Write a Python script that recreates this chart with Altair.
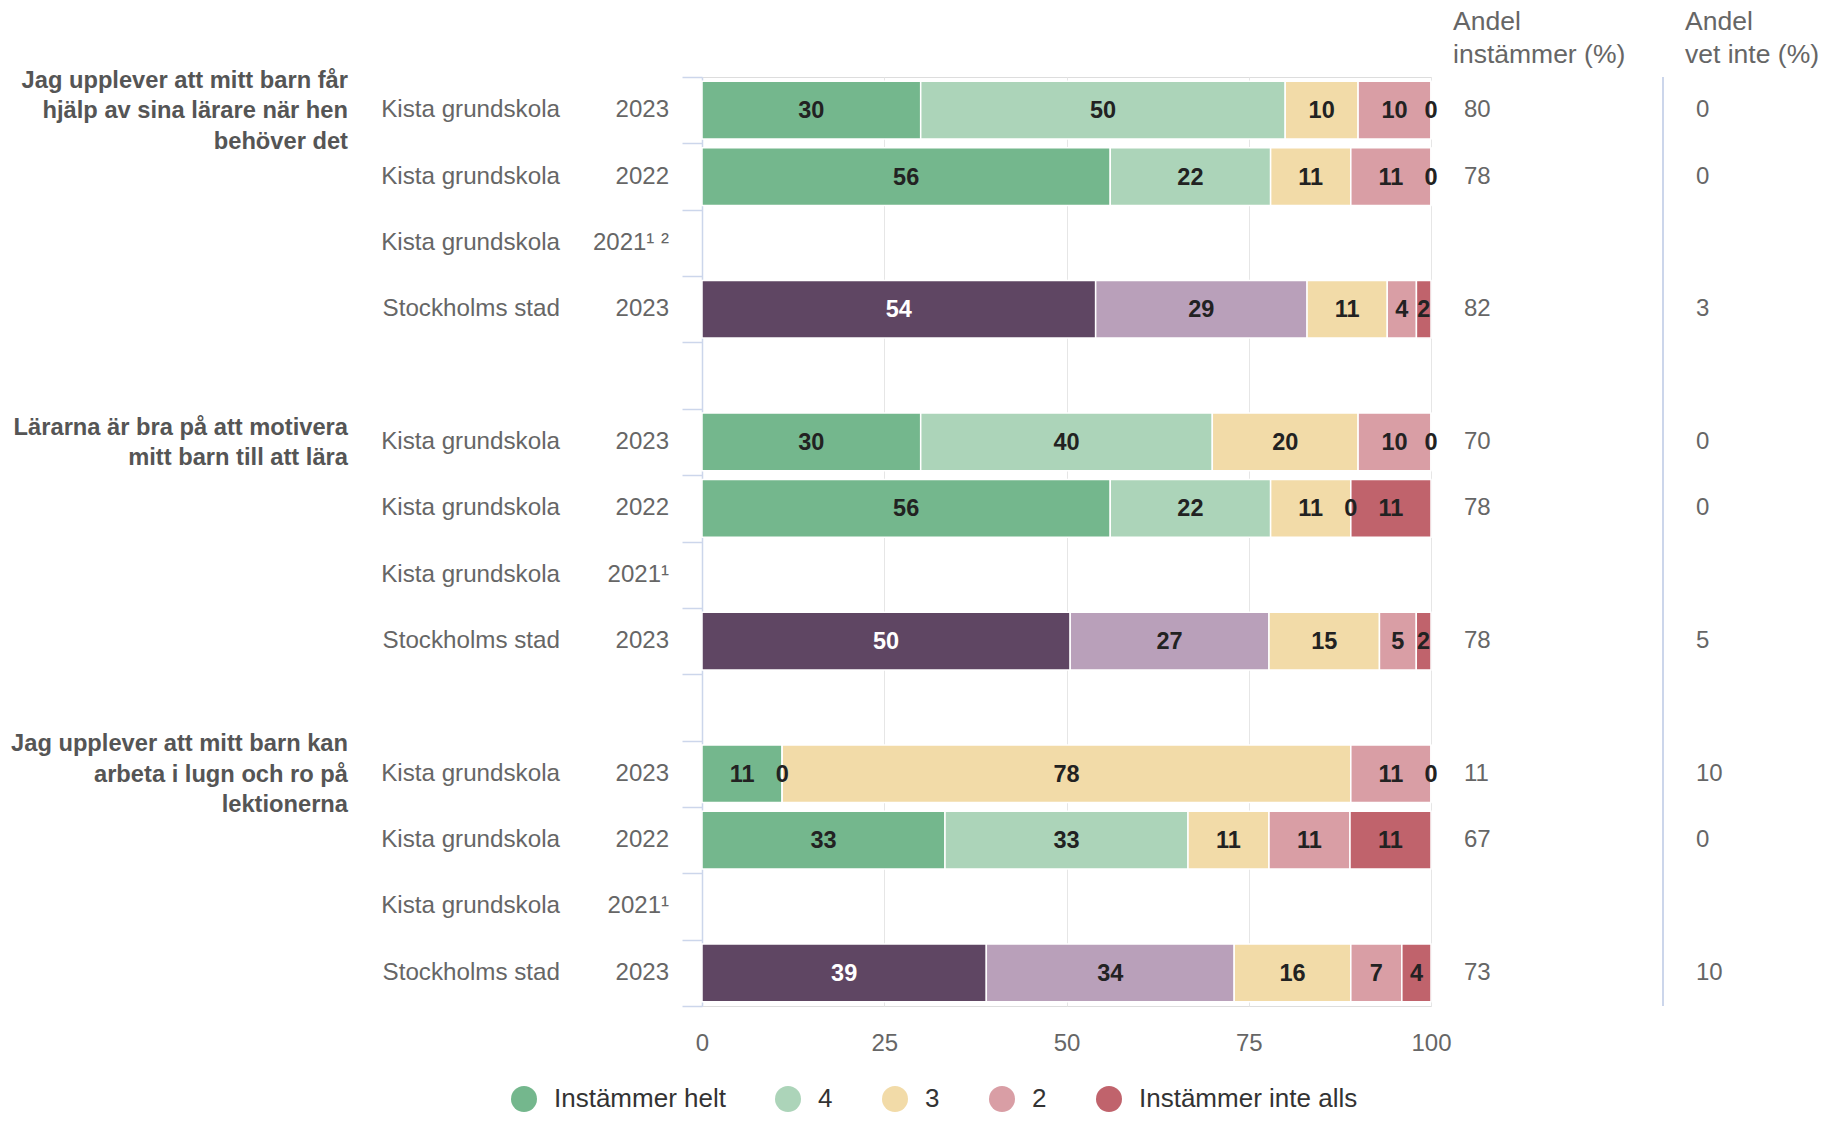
import altair as alt
import pandas as pd

# ---------------- data ----------------
categories = ["Instämmer helt", "4", "3", "2", "Instämmer inte alls"]
kista_colors = ["#74b78d", "#acd4b9", "#f2dba8", "#d99ea5", "#c0636c"]
stockholm_keys = ["Stockholm: Instämmer helt", "Stockholm: 4"]
stockholm_colors = ["#5f4663", "#b9a0ba"]

group_titles = [
    "Jag upplever att mitt barn får\nhjälp av sina lärare när hen\nbehöver det",
    "Lärarna är bra på att motivera\nmitt barn till att lära",
    "Jag upplever att mitt barn kan\narbeta i lugn och ro på\nlektionerna",
]

row_school = ["Kista grundskola", "Kista grundskola", "Kista grundskola", "Stockholms stad"] * 3
row_year = ["2023", "2022", "2021\u00b9 \u00b2", "2023",
            "2023", "2022", "2021\u00b9", "2023",
            "2023", "2022", "2021\u00b9", "2023"]

row_values = [
    [30, 50, 10, 10, 0],
    [56, 22, 11, 11, 0],
    None,
    [54, 29, 11, 4, 2],
    [30, 40, 20, 10, 0],
    [56, 22, 11, 0, 11],
    None,
    [50, 27, 15, 5, 2],
    [11, 0, 78, 11, 0],
    [33, 33, 11, 11, 11],
    None,
    [39, 34, 16, 7, 4],
]
andel_instammer = [80, 78, None, 82, 70, 78, None, 78, 11, 67, None, 73]
andel_vet_inte = [0, 0, None, 3, 0, 0, None, 5, 10, 0, None, 10]

x_ticks = [0, 25, 50, 75, 100]

# ---------------- tables ----------------
n_slots = 14
slot_of_row = [(i // 4) * 5 + (i % 4) for i in range(12)]

bar_rows = []
for i, vals in enumerate(row_values):
    if vals is None:
        continue
    stock = row_school[i].startswith("Stockholm")
    for k, v in enumerate(vals):
        key = categories[k]
        if stock and k < 2:
            key = stockholm_keys[k]
        bar_rows.append({"slot": slot_of_row[i], "cat": categories[k], "order": k,
                         "value": v, "fillkey": key})
bars_df = pd.DataFrame(bar_rows)

label_df = pd.DataFrame({"slot": slot_of_row, "school": row_school, "year": row_year})
side_rows = []
for i in range(12):
    if andel_instammer[i] is None:
        continue
    side_rows.append({"slot": slot_of_row[i], "inst": str(andel_instammer[i]),
                      "vet": str(andel_vet_inte[i])})
side_df = pd.DataFrame(side_rows)
title_df = pd.DataFrame({"slot": [0, 5, 10], "title": group_titles,
                         "nlines": [t.count("\n") + 1 for t in group_titles]})

W, H = 729, 929
FONT = "Liberation Sans"
GRAY = "#666666"
LH = 30.5

y_enc = alt.Y(
    "slot:O",
    scale=alt.Scale(domain=list(range(n_slots)), paddingInner=0, paddingOuter=0),
    axis=alt.Axis(labels=False, title=None, ticks=True, tickBand="extent", tickSize=20,
                  tickColor="#ccd6eb", tickWidth=1.5, domainColor="#ccd6eb", domainWidth=1.5,
                  grid=False),
)

x_scale = alt.Scale(domain=[0, 1], nice=False, zero=True)

base = alt.Chart(bars_df).transform_stack(
    stack="value", groupby=["slot"], sort=[alt.SortField("order")],
    as_=["x0", "x1"], offset="normalize"
).transform_calculate(mid="(datum.x0 + datum.x1) / 2")

bars = base.mark_bar(height=alt.RelativeBandSize(0.87), stroke="white", strokeWidth=1.5).encode(
    x=alt.X("x0:Q", scale=x_scale,
            axis=alt.Axis(values=[t / 100 for t in x_ticks], labelExpr="format(datum.value*100, 'd')",
                          title=None, ticks=False, domain=False, grid=True, gridColor="#e6e6e6",
                          labelFlush=False, labelPadding=25, labelFontSize=24,
                          labelColor=GRAY, labelFont=FONT)),
    x2="x1:Q",
    y=y_enc,
    color=alt.Color(
        "fillkey:N",
        scale=alt.Scale(domain=categories + stockholm_keys, range=kista_colors + stockholm_colors),
        legend=alt.Legend(values=categories, title=None, orient="none", direction="horizontal",
                          columns=5, legendX=-191, legendY=1009, symbolType="circle",
                          symbolSize=676, symbolStrokeWidth=0, labelFontSize=26,
                          labelFont=FONT, labelColor="#333333", labelOffset=17,
                          labelLimit=0, columnPadding=49, padding=0),
    ),
)

bar_text = base.mark_text(font=FONT, fontSize=23.5, fontWeight="bold", baseline="middle",
                          align="center", dy=1).encode(
    x=alt.X("mid:Q", scale=x_scale),
    y=y_enc,
    text=alt.Text("value:Q"),
    color=alt.condition(alt.FieldOneOfPredicate(field="fillkey", oneOf=[stockholm_keys[0]]),
                        alt.value("white"), alt.value("#222222")),
)

school_text = alt.Chart(label_df).mark_text(font=FONT, fontSize=24.2, align="right",
                                            baseline="middle", color=GRAY).encode(
    x=alt.value(-142), y=y_enc, text="school:N")

year_text = alt.Chart(label_df).mark_text(font=FONT, fontSize=24, align="right",
                                          baseline="middle", color=GRAY).encode(
    x=alt.value(-33), y=y_enc, text="year:N")


def title_layer(n):
    return alt.Chart(title_df).transform_filter(alt.datum.nlines == n).mark_text(
        font=FONT, fontSize=23.7, fontWeight="bold", align="right", baseline="middle",
        color="#555555", lineBreak="\n", lineHeight=LH, dy=-(n - 1) * LH / 2 + 1).encode(
        x=alt.value(-354), y=y_enc, text="title:N")


title_text3 = title_layer(3)
title_text2 = title_layer(2)

inst_text = alt.Chart(side_df).mark_text(font=FONT, fontSize=24, align="left",
                                         baseline="middle", color=GRAY).encode(
    x=alt.value(762), y=y_enc, text="inst:N")

vet_text = alt.Chart(side_df).mark_text(font=FONT, fontSize=24, align="left",
                                        baseline="middle", color=GRAY).encode(
    x=alt.value(994), y=y_enc, text="vet:N")

hdr1 = alt.Chart(pd.DataFrame({"t": ["Andel\ninstämmer (%)"]})).mark_text(
    font=FONT, fontSize=26.5, align="left", baseline="middle", color=GRAY,
    lineBreak="\n", lineHeight=33).encode(x=alt.value(751), y=alt.value(-55), text="t:N")

hdr2 = alt.Chart(pd.DataFrame({"t": ["Andel\nvet inte (%)"]})).mark_text(
    font=FONT, fontSize=26.5, align="left", baseline="middle", color=GRAY,
    lineBreak="\n", lineHeight=33).encode(x=alt.value(983), y=alt.value(-55), text="t:N")

sep = alt.Chart(pd.DataFrame({"a": [0]})).mark_rule(color="#ccd6eb", strokeWidth=2).encode(
    x=alt.value(961), y=alt.value(0), y2=alt.value(H))

chart = alt.layer(
    bars, bar_text, school_text, year_text, title_text3, title_text2, inst_text, vet_text,
    hdr1, hdr2, sep
).properties(
    width=W, height=H,
    autosize=alt.AutoSizeParams(type="none"),
    padding={"left": 694, "top": 69, "right": 398, "bottom": 109},
).configure_view(stroke=None).configure(font=FONT)

chart.save("out.html", embed_options={"renderer": "svg", "actions": False})
